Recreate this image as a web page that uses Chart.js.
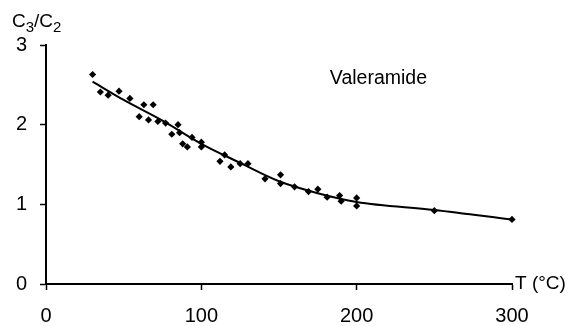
<!DOCTYPE html>
<html>
<head>
<meta charset="utf-8">
<script src="https://cdn.jsdelivr.net/npm/chart.js@4/dist/chart.umd.min.js"></script>
<style>
  body { margin: 0; background: #fff; }
  #wrap { width: 570px; height: 326px; }
</style>
</head>
<body>
<div id="wrap"><canvas id="chart"></canvas></div>
<script>
// measured points (T in °C, C3/C2 ratio)
const tempPts = [30, 35, 40, 47, 54, 60, 63, 66, 69, 72, 77, 81, 85, 86, 88, 91, 94, 100, 100,
                 112, 115, 119, 125, 130, 141, 151, 151, 160, 169, 175, 181, 189, 190, 200, 200, 250, 300];
const ratioPts = [2.63, 2.41, 2.37, 2.42, 2.33, 2.10, 2.25, 2.06, 2.25, 2.04, 2.02, 1.88, 2.00, 1.90, 1.76, 1.72, 1.84, 1.78, 1.72,
                  1.54, 1.62, 1.47, 1.51, 1.51, 1.32, 1.37, 1.26, 1.22, 1.16, 1.19, 1.09, 1.11, 1.04, 1.08, 0.98, 0.92, 0.81];

// fitted curve
const fitT = [30, 50, 75, 100, 125, 150, 175, 200, 250, 300];
const fitRatio = [2.54, 2.31, 2.05, 1.76, 1.52, 1.29, 1.14, 1.03, 0.93, 0.81];

const xTicks = [0, 100, 200, 300];
const yTicks = [0, 1, 2, 3];

const FONT = "'Liberation Sans', Arial, sans-serif";

const textPlugin = {
  id: 'labels',
  afterDraw(chart) {
    const ctx = chart.ctx;
    const xs = chart.scales.x, ys = chart.scales.y;
    ctx.save();
    ctx.fillStyle = '#000';
    ctx.textBaseline = 'alphabetic';
    ctx.textAlign = 'left';
    // y axis title C3/C2 with subscripts
    let x = 12;
    const parts = [['C', 19, 0], ['3', 15, 5], ['/C', 19, 0], ['2', 15, 5]];
    parts.forEach(p => {
      ctx.font = p[1] + 'px ' + FONT;
      ctx.fillText(p[0], x, 27 + p[2]);
      x += ctx.measureText(p[0]).width;
    });
    // x axis title
    ctx.font = '19px ' + FONT;
    ctx.textBaseline = 'middle';
    ctx.fillText('T (°C)', xs.right + 3, ys.bottom);
    // series label
    ctx.textAlign = 'center';
    ctx.font = '19.5px ' + FONT;
    ctx.fillText('Valeramide', xs.getPixelForValue(214), ys.getPixelForValue(2.58));
    ctx.restore();
  }
};

new Chart(document.getElementById('chart'), {
  type: 'scatter',
  data: {
    datasets: [
      {
        label: 'measured',
        data: tempPts.map((t, i) => ({x: t, y: ratioPts[i]})),
        pointStyle: 'rectRot',
        pointRadius: 3.6,
        backgroundColor: '#000',
        borderColor: '#000',
        borderWidth: 0,
        clip: false
      },
      {
        label: 'fit',
        type: 'line',
        data: fitT.map((t, i) => ({x: t, y: fitRatio[i]})),
        borderColor: '#000',
        borderWidth: 2,
        pointRadius: 0,
        cubicInterpolationMode: 'monotone',
        fill: false,
        clip: false
      }
    ]
  },
  options: {
    responsive: true,
    maintainAspectRatio: false,
    animation: false,
    layout: { padding: { top: 45, right: 58, left: 0, bottom: 0 } },
    plugins: { legend: { display: false }, tooltip: { enabled: false } },
    scales: {
      x: {
        type: 'linear', min: 0, max: 300,
        afterBuildTicks: s => { s.ticks = xTicks.map(v => ({value: v})); },
        afterFit: s => { s.height = 42; },
        ticks: { color: '#000', font: { family: FONT, size: 20 }, padding: 14, maxRotation: 0 },
        grid: { drawOnChartArea: false, drawTicks: true, tickLength: 6, tickColor: '#000', tickWidth: 1.5 },
        border: { color: '#000', width: 2 }
      },
      y: {
        type: 'linear', min: 0, max: 3,
        afterBuildTicks: s => { s.ticks = yTicks.map(v => ({value: v})); },
        afterFit: s => { s.width = 46; },
        ticks: { color: '#000', font: { family: FONT, size: 20 }, padding: 13 },
        grid: { drawOnChartArea: false, drawTicks: true, tickLength: 6, tickColor: '#000', tickWidth: 1.5 },
        border: { color: '#000', width: 2 }
      }
    }
  },
  plugins: [textPlugin]
});
</script>
</body>
</html>
